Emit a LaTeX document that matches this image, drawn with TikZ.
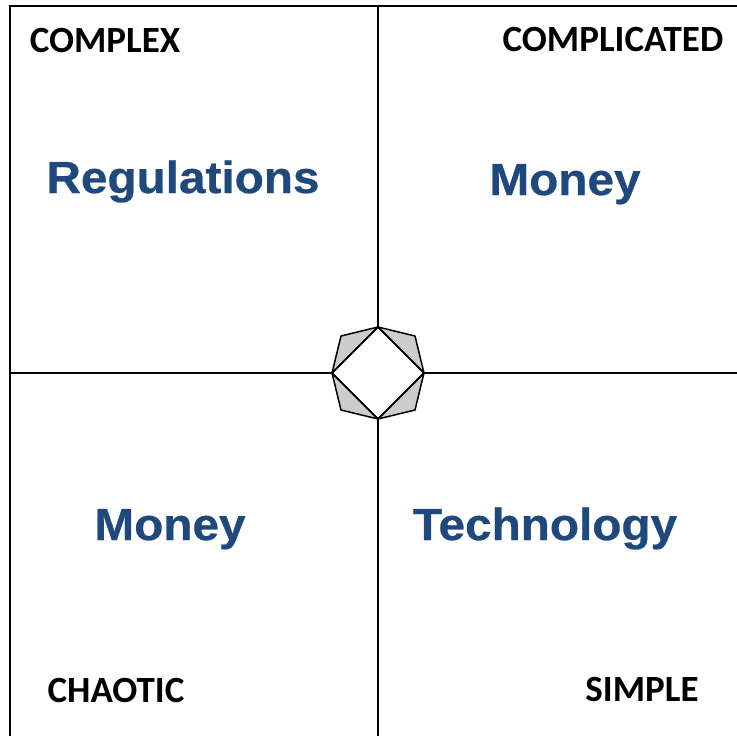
\documentclass[tikz,border=0pt]{standalone}
\usepackage{fontspec}
\newfontfamily\labelfont{Carlito}
\newfontfamily\topicfont[FakeStretch=1.06,FakeBold=0.6]{Liberation Sans}
\definecolor{topicblue}{HTML}{1F497D}
\begin{document}
\begin{tikzpicture}[x=1pt,y=-1pt,
    quadlabel/.style={anchor=base,inner sep=0pt,font=\labelfont\bfseries\fontsize{37}{40}\selectfont},
    topic/.style={anchor=base,inner sep=0pt,text=topicblue,font=\topicfont\bfseries\fontsize{45}{48}\selectfont}]
                \useasboundingbox (0, 0) rectangle (737, 736);
                \clip (0, 0) rectangle (737, 736);
                \coordinate (C) at (378, 373);

                % frame and cross
                \draw[line width=2pt] (10, 6) rectangle (745, 745);
                \draw[line width=1.5pt] (378, 6) -- (378, 736);
                \draw[line width=1.5pt] (10, 373) -- (737, 373);

                % centre octagon
                \coordinate (T) at (378, 327);
                \coordinate (R) at (424, 373);
                \coordinate (B) at (378, 419);
                \coordinate (L) at (332, 373);
                \coordinate (TR) at (415, 336);
                \coordinate (BR) at (415, 410);
                \coordinate (BL) at (341, 410);
                \coordinate (TL) at (341, 336);
                \fill[white] (T) -- (TR) -- (R) -- (BR) -- (B) -- (BL) -- (L) -- (TL) -- cycle;
                \draw[line width=1.5pt,fill=black!20,line join=round] (T) -- (TR) -- (R) -- cycle;
                \draw[line width=1.5pt,fill=black!20,line join=round] (R) -- (BR) -- (B) -- cycle;
                \draw[line width=1.5pt,fill=black!20,line join=round] (B) -- (BL) -- (L) -- cycle;
                \draw[line width=1.5pt,fill=black!20,line join=round] (L) -- (TL) -- (T) -- cycle;
                \draw[line width=1.5pt,line join=round] (T) -- (R) -- (B) -- (L) -- cycle;

                % quadrant names
                \node[quadlabel] (complex) at (105, 52) {COMPLEX};
                \node[quadlabel] (complicated) at (613, 51) {COMPLICATED};
                \node[quadlabel] (chaotic) at (116, 702) {CHAOTIC};
                \node[quadlabel] (simple) at (642, 701) {SIMPLE};

                % topics
                \node[topic] (regulations) at (183, 193) {Regulations};
                \node[topic] (moneyA) at (565, 195) {Money};
                \node[topic] (moneyB) at (170, 540) {Money};
                \node[topic] (technology) at (545, 540) {Technology};
            \end{tikzpicture}
\end{document}
